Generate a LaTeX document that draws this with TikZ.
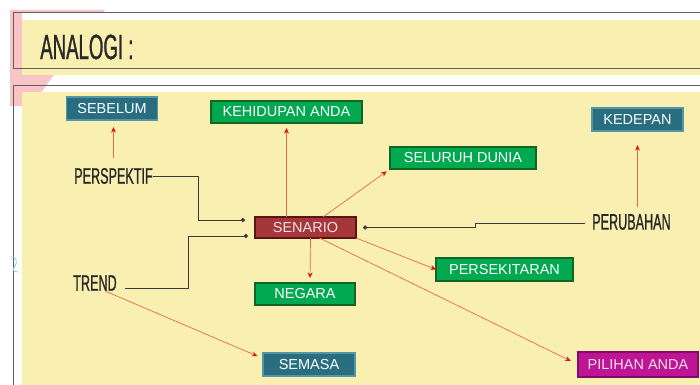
\documentclass[tikz,border=0pt]{standalone}
\usepackage{fontspec}
\newfontfamily\boxfont{Liberation Sans}
\newfontfamily\titlefont[FakeStretch=0.53,FakeBold=0.8]{Liberation Sans}
\newfontfamily\wordfont[FakeStretch=0.56,FakeBold=0.8]{Liberation Sans}
\usepackage{tikz}
\usetikzlibrary{arrows.meta, calc}
\definecolor{PaperYellow}{RGB}{249,239,176}
\definecolor{PaperPink}{RGB}{248,196,198}
\definecolor{FrameGray}{RGB}{95,95,95}
\definecolor{ScribbleBlue}{RGB}{150,200,225}
\definecolor{TealFill}{RGB}{40,110,128}
\definecolor{TealEdge}{RGB}{85,150,165}
\definecolor{GreenFill}{RGB}{0,168,80}
\definecolor{GreenEdge}{RGB}{20,100,40}
\definecolor{RedFill}{RGB}{165,55,58}
\definecolor{RedEdge}{RGB}{90,20,20}
\definecolor{MagentaFill}{RGB}{190,20,150}
\definecolor{MagentaEdge}{RGB}{130,10,105}
\definecolor{SoftWhite}{RGB}{240,225,228}
\definecolor{WordGray}{RGB}{40,40,40}
\definecolor{LinkGray}{RGB}{60,60,60}
\definecolor{ArrowOrange}{RGB}{233,105,75}
\definecolor{ArrowRed}{RGB}{225,20,10}
\tikzstyle{box} = [rectangle, text centered, inner sep=0pt, outer sep=0pt, text=white, font=\boxfont\fontsize{10.3}{12}\selectfont]
\tikzstyle{tealbox} = [box, draw=TealEdge, fill=TealFill, line width=0.8pt]
\tikzstyle{greenbox} = [box, draw=GreenEdge, fill=GreenFill, line width=1.3pt]
\tikzstyle{redbox} = [box, draw=RedEdge, fill=RedFill, line width=1.3pt, text=SoftWhite]
\tikzstyle{pinkbox} = [box, draw=MagentaEdge, fill=MagentaFill, line width=1pt, text=SoftWhite]
\tikzstyle{word} = [inner sep=0pt, anchor=west, text=WordGray, font=\wordfont\fontsize{16}{18}\selectfont]
\tikzstyle{link} = [draw=LinkGray, line width=0.6pt, -{Circle[length=3pt]}]
\tikzstyle{arrow} = [draw=ArrowOrange, line width=0.5pt, -{Stealth[length=4pt,width=3.5pt,color=ArrowRed]}]

\begin{document}
\begin{tikzpicture}[x=0.025cm, y=-0.025cm]
  \useasboundingbox (0,0) rectangle (700,385);
  \fill[PaperPink] (10,10) -- (105,10) -- (50,80) -- (38,97) -- (22,106) -- (10,106) -- cycle;
  \fill[white] (22,12) rectangle (700,20);
  \fill[PaperYellow] (22,20) rectangle (700,75);
  \draw[FrameGray, line width=0.6pt] (13,12) rectangle (710,68);
  \fill[PaperYellow] (22,92) rectangle (700,385);
  \draw[FrameGray, line width=0.6pt] (13,85) rectangle (710,395);
  \draw[ScribbleBlue, line width=0.6pt] (11,257) .. controls (16,256) and (18,262) .. (15,266) .. controls (13,269) and (11,271) .. (18,272);

  \node (title) [word, font=\titlefont\fontsize{25}{30}\selectfont] at (40,47) {ANALOGI :};

  \node (sebelum) [tealbox, minimum width=2.275cm, minimum height=0.575cm] at (112,108.5) {SEBELUM};
  \node (hidup) [greenbox, minimum width=3.775cm, minimum height=0.55cm] at (286.5,112) {KEHIDUPAN ANDA};
  \node (dunia) [greenbox, minimum width=3.65cm, minimum height=0.55cm] at (463,158) {SELURUH DUNIA};
  \node (kedepan) [tealbox, minimum width=2.275cm, minimum height=0.575cm] at (637.5,119.5) {KEDEPAN};
  \node (senario) [redbox, minimum width=2.525cm, minimum height=0.525cm] at (305.5,227.5) {SENARIO};
  \node (negara) [greenbox, minimum width=2.5cm, minimum height=0.55cm] at (305,294) {NEGARA};
  \node (sekitar) [greenbox, minimum width=3.425cm, minimum height=0.575cm] at (504.5,269.5) {PERSEKITARAN};
  \node (semasa) [tealbox, minimum width=2.3cm, minimum height=0.575cm] at (309,364.5) {SEMASA};
  \node (pilihan) [pinkbox, minimum width=3cm, minimum height=0.625cm] at (638,364.5) {PILIHAN ANDA};

  \node (perspektif) [word] at (74,176) {PERSPEKTIF};
  \node (perubahan) [word] at (592,222) {PERUBAHAN};
  \node (trend) [word] at (73,283) {TREND};

  \draw [link, shorten >=0.25cm] (perspektif.east) -- ++(45,0) |- ([yshift=0.1875cm]senario.west);
  \draw [link, shorten <=0.2cm, shorten >=0.175cm] ([yshift=-0.125cm]trend.east) -- ++(71,0) |- ([yshift=-0.2125cm]senario.west);
  \draw [link, shorten <=0.175cm, shorten >=0.175cm] ([yshift=-0.025cm]perubahan.west) -- ++(-117,0) |- (senario.east);

  \draw [arrow, shorten <=0.25cm, shorten >=0.175cm] (perspektif.north) -- (perspektif.north |- sebelum.south);
  \draw [arrow, shorten >=0.125cm] (senario.north -| hidup.south) -- (hidup.south);
  \draw [arrow, shorten >=0.1cm] ([xshift=0.4375cm]senario.north) -- (dunia.south west);
  \draw [arrow, shorten >=0.35cm] ($(kedepan.south |- perubahan.north)+(0,-7)$) -- (kedepan.south);
  \draw [arrow, shorten >=0.125cm] ([xshift=0.125cm]senario.south) -- ([xshift=0.125cm]negara.north);
  \draw [arrow] (senario.south east) -- (sekitar.west);
  \draw [arrow, shorten >=0.2cm] ([xshift=0.35cm]senario.south) -- (pilihan.west);
  \draw [arrow, shorten >=0.15cm] ([xshift=0.25cm]trend.south) -- ([yshift=0.15cm]semasa.west);

\end{tikzpicture}
\end{document}
